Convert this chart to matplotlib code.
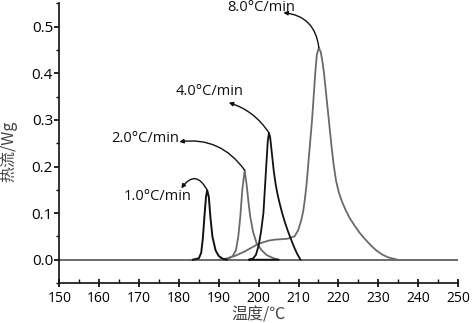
import matplotlib
matplotlib.use("Agg")
import matplotlib.pyplot as plt
from matplotlib.ticker import MultipleLocator

plt.rcParams['font.family'] = ['Open Sans', 'Noto Sans CJK SC', 'DejaVu Sans']

# ---- data ----
x_r1 = [183.5, 185.0, 185.6, 186.0, 186.4, 186.8, 187.1, 187.5, 187.9, 188.4, 189.2, 190.0, 191.0, 192.0]
y_r1 = [0.0, 0.003, 0.015, 0.045, 0.092, 0.135, 0.149, 0.135, 0.092, 0.05, 0.02, 0.008, 0.002, 0.0]

x_r2 = [191.0, 192.5, 193.5, 194.3, 194.9, 195.4, 195.9, 196.5, 197.0, 197.5, 197.9, 198.6, 199.5, 200.8, 202.0, 203.5, 205.0]
y_r2 = [0.0, 0.002, 0.008, 0.02, 0.05, 0.092, 0.15, 0.192, 0.16, 0.12, 0.092, 0.06, 0.035, 0.02, 0.01, 0.004, 0.0]

x_r4 = [205.0, 197.5, 198.5, 199.3, 200.0, 200.6, 201.2, 201.9, 202.3, 202.6, 202.9, 203.3, 203.8, 204.3, 204.8, 205.3, 205.9, 206.6, 207.4, 208.2, 209.0, 209.7, 210.5]
y_r4 = [0.0, 0.0, 0.002, 0.01, 0.03, 0.06, 0.1, 0.2, 0.255, 0.272, 0.262, 0.23, 0.19, 0.16, 0.138, 0.12, 0.1, 0.08, 0.06, 0.042, 0.025, 0.012, 0.0]

x_r8 = [190.0, 191.7, 194.0, 196.6, 199.9, 202.5, 204.0, 207.3, 209.0, 209.9, 210.7, 211.2, 211.6, 212.0, 212.4, 212.9, 213.4, 213.8, 214.2, 214.6, 215.1, 215.6, 216.0, 216.4, 217.0, 217.6, 218.2, 218.8, 219.4, 220.1, 220.9, 221.8, 222.8, 224.0, 225.3, 226.6, 228.0, 229.5, 231.0, 232.5, 234.8]
y_r8 = [0.0, 0.002, 0.008, 0.018, 0.034, 0.041, 0.043, 0.045, 0.05, 0.063, 0.085, 0.105, 0.13, 0.16, 0.2, 0.25, 0.3, 0.35, 0.4, 0.44, 0.455, 0.445, 0.425, 0.4, 0.35, 0.3, 0.25, 0.205, 0.17, 0.145, 0.125, 0.107, 0.09, 0.074, 0.058, 0.045, 0.032, 0.02, 0.011, 0.005, 0.0]

labels = ["1.0°C/min", "2.0°C/min", "4.0°C/min", "8.0°C/min"]
peaks = [(187.1, 0.149), (196.5, 0.192), (202.6, 0.272), (215.1, 0.455)]
heads = [(180.6, 0.153), (180.1, 0.253), (192.5, 0.337), (206.2, 0.530)]
text_pos = [(166.1, 0.135), (163.0, 0.260), (179.1, 0.362), (192.1, 0.542)]
rads = [0.8, 0.3, 0.18, 0.4]

BLACK = '#111111'
GRAY = '#6a6a6a'

fig = plt.figure(figsize=(4.72, 3.23), dpi=100)
ax = fig.add_axes([0.1256, 0.1238, 0.8447, 0.8657])

ax.axhline(0, color=GRAY, lw=1.4, zorder=1)
ax.plot(x_r8, y_r8, color=GRAY, lw=1.3, zorder=2)
ax.plot(x_r2, y_r2, color=GRAY, lw=1.3, zorder=2)
ax.plot(x_r4, y_r4, color=BLACK, lw=1.3, zorder=3)
ax.plot(x_r1, y_r1, color=BLACK, lw=1.4, zorder=3)

for lab, pk, hd, tp, rd in zip(labels, peaks, heads, text_pos, rads):
    ax.annotate("", xy=hd, xytext=pk,
                arrowprops=dict(arrowstyle="-|>", color=BLACK, lw=1.0,
                                mutation_scale=6, shrinkA=0, shrinkB=0,
                                connectionstyle=f"arc3,rad={rd}"),
                annotation_clip=False)
    ax.text(tp[0], tp[1], lab, fontsize=10.5, ha='left', va='center',
            color=BLACK, clip_on=False)

ax.set_xlim(150, 250)
ax.set_ylim(-0.05, 0.55)
ax.xaxis.set_major_locator(MultipleLocator(10))
ax.xaxis.set_minor_locator(MultipleLocator(5))
ax.set_yticks([0.0, 0.1, 0.2, 0.3, 0.4, 0.5])
ax.yaxis.set_minor_locator(MultipleLocator(0.05))
ax.set_yticklabels(["0.0", "0.1", "0.2", "0.3", "0.4", "0.5"])

for s in ['top', 'right']:
    ax.spines[s].set_visible(False)
for s in ['left', 'bottom']:
    ax.spines[s].set_linewidth(1.2)
    ax.spines[s].set_color(BLACK)

ax.tick_params(axis='x', which='major', direction='inout', length=6, width=1.2, pad=3, labelsize=10)
ax.tick_params(axis='x', which='minor', direction='in', length=3, width=1.0)
ax.tick_params(axis='y', which='major', direction='out', length=3.5, width=1.2, pad=1, labelsize=11)
ax.tick_params(axis='y', which='minor', direction='out', length=2.5, width=1.0)

ax.set_xlabel("温度/℃", fontsize=11.5, color='#444444', labelpad=0,
              family=['Noto Sans CJK SC', 'DejaVu Sans'])
ax.set_ylabel("热流/Wg", fontsize=11.5, color='#444444', labelpad=2,
              family=['Noto Sans CJK SC', 'DejaVu Sans'])
ax.yaxis.set_label_coords(-0.105, 0.47)

fig.savefig("out.png", dpi=100)
